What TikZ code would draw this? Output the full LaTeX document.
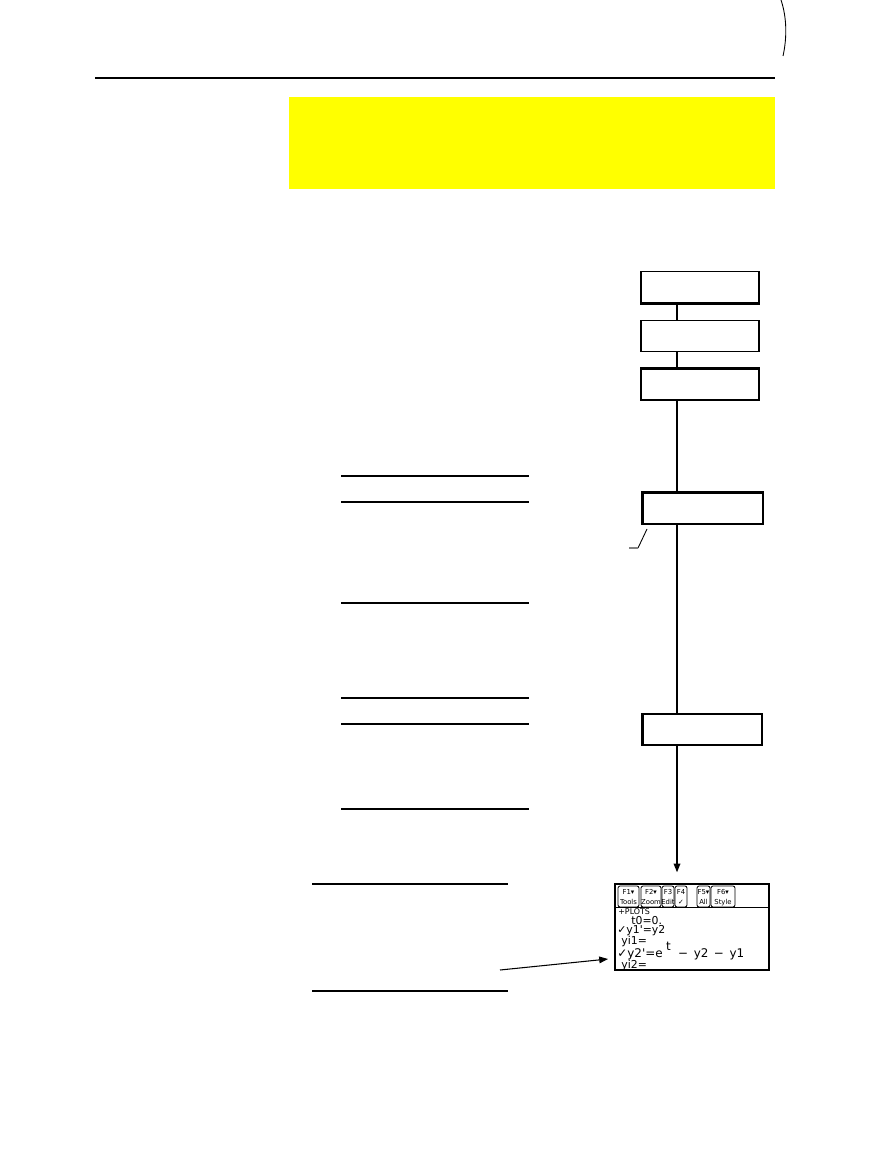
\documentclass[tikz,border=0pt]{standalone}
\usepackage{fontspec}
\usepackage{tikz}
\usetikzlibrary{arrows.meta}
\newfontfamily\lcdfont{DejaVu Sans}
\definecolor{hiyellow}{RGB}{255,255,0}
\tikzset{
  flowbox/.style={draw,line width=0.8pt,minimum width=2.36cm,minimum height=0.62cm,inner sep=0pt},
  spine/.style={line width=0.75pt},
  fkey/.style={draw,line width=0.45pt,rounded corners=1.2pt},
  lcd/.style={inner sep=0pt,anchor=base west,font=\lcdfont\fontsize{6.2}{6.2}\selectfont},
  lcdkey/.style={inner sep=0pt,anchor=base,font=\lcdfont\fontsize{3.9}{3.9}\selectfont},
}
\begin{document}
\begin{tikzpicture}[line cap=butt,line join=miter,x=0.02cm,y=-0.02cm]
\useasboundingbox (0,0) rectangle (868,1158);
% page rule and highlight bar
\draw [line width=1.7pt] (95,78) -- (775,78);
\fill [hiyellow] (289,97) rectangle (775,189);
\draw [line width=0.5pt] (781,0) .. controls (787,18) and (787,38) .. (783,56);
% flow boxes
\coordinate (spinex) at (677,0);
\node [flowbox] (b1) at (700,287) {};
\node [flowbox] (b2) at (700,336) {};
\node [flowbox] (b3) at (700,384.5) {};
\node [flowbox,minimum width=2.4cm] (b4) at (703,508.5) {};
\node [flowbox,minimum width=2.38cm] (b5) at (702.5,729.5) {};
\draw [line width=1.5pt] (b1.south west) -- (b1.south east);
\draw [line width=1.5pt] (b3.north west) -- (b3.north east);
\draw [line width=1.5pt] (b4.south west) |- (b4.north east);
\draw [line width=1.5pt] (b5.south west) -- (b5.north west);
\draw [spine] (b1.south -| spinex) -- (b2.north -| spinex);
\draw [spine] (b2.south -| spinex) -- (b3.north -| spinex);
\draw [spine] (b3.south -| spinex) -- (b4.north -| spinex);
\draw [spine] (b4.south -| spinex) -- (b5.north -| spinex);
% calculator screen
\node [draw,line width=0.8pt,minimum width=3.08cm,minimum height=1.72cm,inner sep=0pt] (scr) at (692,927) {};
\draw [spine,-{Triangle[length=5pt,width=3.8pt]},shorten >=0.22cm] (b5.south -| spinex) -- (scr.north -| spinex);
\draw [line width=0.5pt] (647,529) -- (638,548);
\draw [gray,line width=0.9pt] (638,548) -- (629,548);
% rules at left
\draw [line width=0.6pt] (341,476) -- (529,476);
\draw [line width=1.7pt] (341,502) -- (529,502);
\draw [line width=0.7pt] (341,603) -- (529,603);
\draw [line width=1.2pt] (341,698) -- (529,698);
\draw [line width=1.2pt] (341,724) -- (529,724);
\draw [line width=0.7pt] (341,809) -- (529,809);
\draw [line width=0.6pt] (312,884) -- (508,884);
\draw [line width=0.6pt] (312,991) -- (508,991);
% screen toolbar
\draw [line width=0.5pt] (scr.west |- 0,907) -- (scr.east |- 0,907);
\draw [fkey] (618,886) rectangle (639,907);
\draw [fkey] (641,886) rectangle (661,907);
\draw [fkey] (662,886) rectangle (674,907);
\draw [fkey] (675,886) rectangle (687,907);
\draw [fkey] (697,886) rectangle (710,907);
\draw [fkey] (711,886) rectangle (735,907);
\node [lcdkey] (k1) at (628.5,894) {F1▾};
\node [lcdkey] (k1b) at (628.5,904) {Tools};
\node [lcdkey] (k2) at (651,894) {F2▾};
\node [lcdkey] (k2b) at (651,904) {Zoom};
\node [lcdkey] (k3) at (668,894) {F3};
\node [lcdkey] (k3b) at (668,904) {Edit};
\node [lcdkey] (k4) at (681,894) {F4};
\node [lcdkey] (k4b) at (681,904) {✓};
\node [lcdkey] (k5) at (703.5,894) {F5▾};
\node [lcdkey] (k5b) at (703.5,904) {All};
\node [lcdkey] (k6) at (723,894) {F6▾};
\node [lcdkey] (k6b) at (723,904) {Style};
% screen rows
\node [lcd,font=\lcdfont\fontsize{4.5}{4.5}\selectfont] (plots) at (618,914) {+PLOTS};
\node [lcd] (t0) at (631,924) {t0=0.};
\node [lcd] (y1) at (617,933) {✓y1'=y2};
\node [lcd] (yi1) at (621,944.5) {yi1=};
\node [lcd,font=\lcdfont\fontsize{6.8}{6.8}\selectfont] (y2eq) at (617,957) {✓y2'=e\hspace{2pt}\raisebox{3.6pt}{t}\hspace{2pt} −\hspace{1pt} y2\hspace{1pt} −\hspace{1pt} y1};
\node [lcd] (yi2) at (621,968) {yi2=};
% pointer to the y2 row
\coordinate (note) at (500,970);
\coordinate (y2in) at (608,959);
\draw [line width=0.6pt,-{Triangle[length=5pt,width=3.8pt]}] (note) -- (y2in);
\end{tikzpicture}
\end{document}
